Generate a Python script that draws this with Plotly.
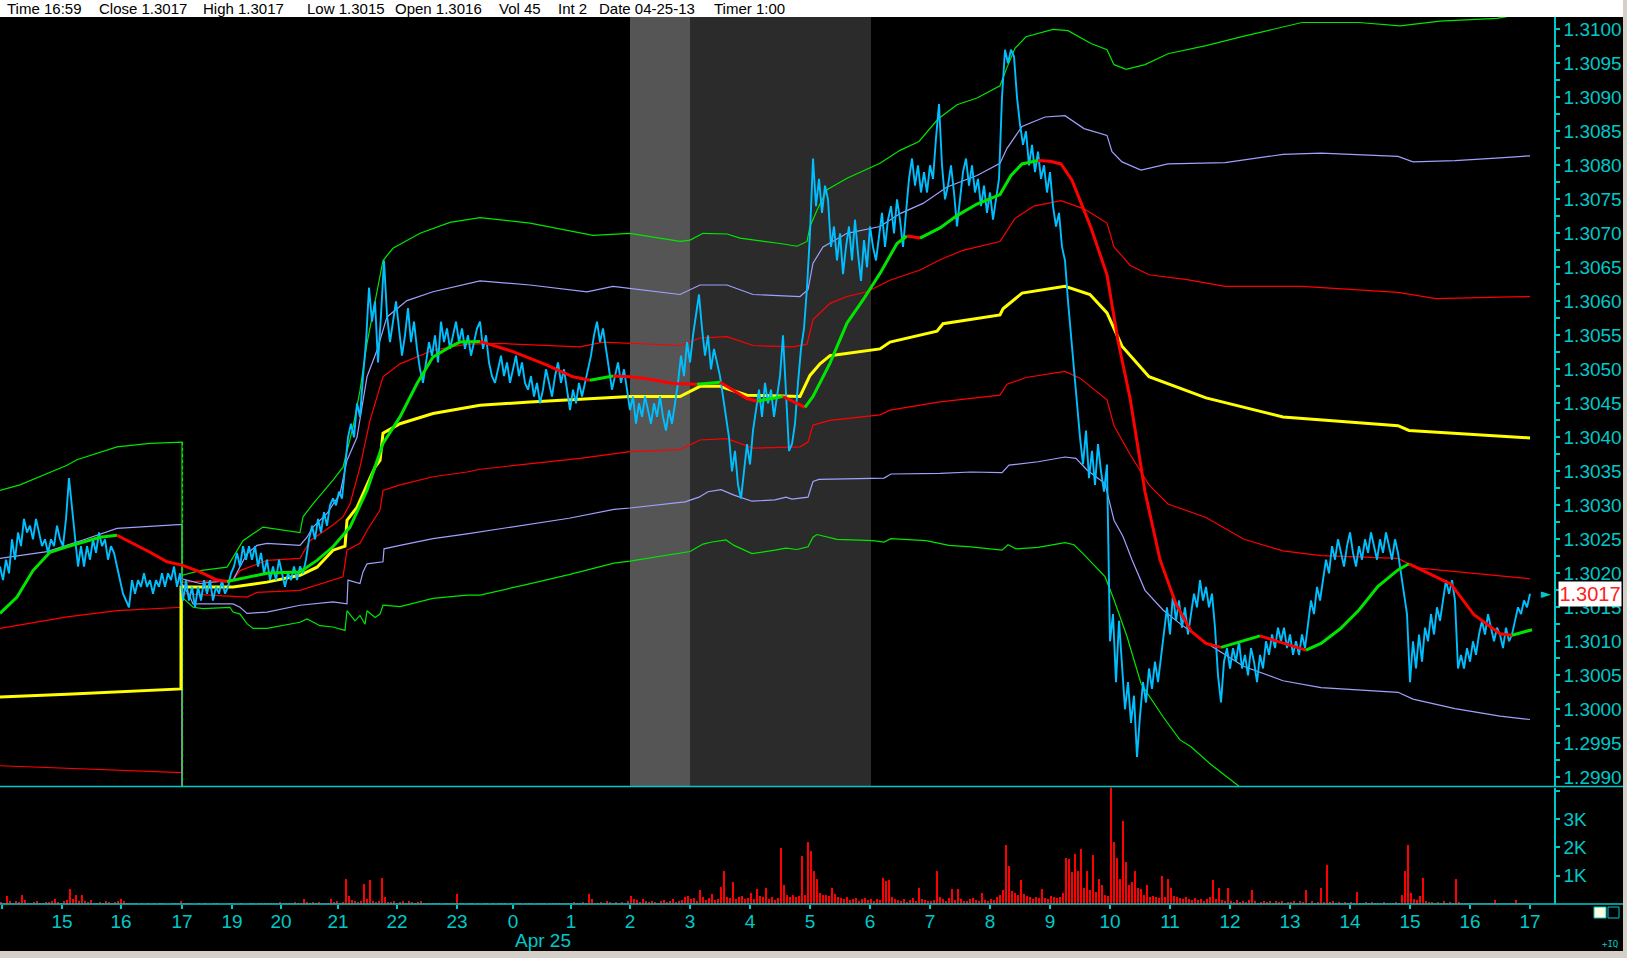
import plotly.graph_objects as go

# ---- header line of the quote window ----
header_fields = ["Time 16:59", "Close 1.3017", "High 1.3017", "Low 1.3015", "Open 1.3016",
                 "Vol 45", "Int 2", "Date 04-25-13", "Timer 1:00"]
header_px = [5, 97, 201, 305, 393, 497, 556, 597, 712]

# ---- time axis (minute bars, session break at 17:00) ----
hour_ticks = [2, 62, 121, 182, 232, 281, 338, 397, 457, 513, 571, 630, 690, 750, 810,
              870, 930, 990, 1050, 1110, 1170, 1230, 1290, 1350, 1410, 1470, 1530]
hour_labels = ["", "15", "16", "17", "19", "20", "21", "22", "23", "0", "1", "2", "3", "4", "5",
               "6", "7", "8", "9", "10", "11", "12", "13", "14", "15", "16", "17"]
date_label = "Apr 25"
date_tick = 513
session_break = 182

shade_start = [630, 690]
shade_end = [690, 871]
shade_colors = ["#555555", "#2b2b2b"]

# ---- price, one value every 3 bars ----
price_step = 3
price = [
    1.3021, 1.3019, 1.3022, 1.3020, 1.3025, 1.3022, 1.3026, 1.3024, 1.3028, 1.3026,
    1.3027, 1.3025, 1.3028, 1.3026, 1.3024, 1.3025, 1.3023, 1.3025, 1.3024, 1.3027,
    1.3025, 1.3024, 1.3028, 1.3034, 1.3030, 1.3026, 1.3021, 1.3024, 1.3021, 1.3024,
    1.3022, 1.3025, 1.3023, 1.3026, 1.3024, 1.3025, 1.3022, 1.3024, 1.3023, 1.3021,
    1.3019, 1.3017, 1.3016, 1.3015, 1.3019, 1.3017, 1.3019, 1.3018, 1.3020, 1.3018,
    1.3019, 1.3017, 1.3019, 1.3018, 1.3020, 1.3018, 1.3020, 1.3019, 1.3021, 1.3018,
    1.3020, 1.3016, 1.3019, 1.3016, 1.3018, 1.3015, 1.3018, 1.3016, 1.3019, 1.3017,
    1.3019, 1.3016, 1.3018, 1.3017, 1.3019, 1.3017, 1.3018, 1.3020, 1.3021, 1.3023,
    1.3021, 1.3024, 1.3022, 1.3024, 1.3022, 1.3024, 1.3021, 1.3023, 1.3020, 1.3022,
    1.3019, 1.3021, 1.3019, 1.3022, 1.3020, 1.3018, 1.3020, 1.3019, 1.3021, 1.3019,
    1.3021, 1.3020, 1.3022, 1.3025, 1.3027, 1.3025, 1.3028, 1.3026, 1.3029, 1.3027,
    1.3030, 1.3031, 1.3030, 1.3032, 1.3031, 1.3035, 1.3040, 1.3042, 1.3040, 1.3045,
    1.3043, 1.3049, 1.3054, 1.3062, 1.3057, 1.3060, 1.3051, 1.3058, 1.3066, 1.3058,
    1.3054, 1.3057, 1.3060, 1.3056, 1.3052, 1.3055, 1.3059, 1.3054, 1.3057, 1.3053,
    1.3050, 1.3048, 1.3051, 1.3054, 1.3052, 1.3055, 1.3051, 1.3057, 1.3054, 1.3056,
    1.3053, 1.3055, 1.3057, 1.3054, 1.3056, 1.3053, 1.3055, 1.3052, 1.3054, 1.3056,
    1.3057, 1.3053, 1.3055, 1.3051, 1.3049, 1.3048, 1.3050, 1.3052, 1.3049, 1.3051,
    1.3048, 1.3050, 1.3052, 1.3049, 1.3051, 1.3048, 1.3047, 1.3049, 1.3046, 1.3048,
    1.3045, 1.3047, 1.3050, 1.3048, 1.3046, 1.3049, 1.3051, 1.3048, 1.3050, 1.3047,
    1.3044, 1.3047, 1.3045, 1.3048, 1.3046, 1.3048, 1.3050, 1.3052, 1.3055, 1.3057,
    1.3054, 1.3056, 1.3053, 1.3050, 1.3047, 1.3049, 1.3051, 1.3048, 1.3050, 1.3047,
    1.3044, 1.3046, 1.3042, 1.3045, 1.3043, 1.3046, 1.3044, 1.3042, 1.3045, 1.3043,
    1.3046, 1.3043, 1.3041, 1.3044, 1.3042, 1.3045, 1.3048, 1.3052, 1.3049, 1.3054,
    1.3051, 1.3055, 1.3058, 1.3061, 1.3056, 1.3052, 1.3055, 1.3050, 1.3053, 1.3051,
    1.3049, 1.3046, 1.3043, 1.3040, 1.3035, 1.3038, 1.3033, 1.3031, 1.3035, 1.3039,
    1.3036, 1.3041, 1.3044, 1.3047, 1.3043, 1.3048, 1.3045, 1.3047, 1.3043, 1.3046,
    1.3049, 1.3055, 1.3046, 1.3038, 1.3039, 1.3042, 1.3048, 1.3053, 1.3056, 1.3062,
    1.3070, 1.3081, 1.3074, 1.3078, 1.3073, 1.3077, 1.3075, 1.3068, 1.3071, 1.3066,
    1.3070, 1.3064, 1.3068, 1.3071, 1.3066, 1.3072, 1.3067, 1.3063, 1.3069, 1.3065,
    1.3071, 1.3068, 1.3066, 1.3070, 1.3073, 1.3068, 1.3072, 1.3074, 1.3070, 1.3075,
    1.3072, 1.3068, 1.3073, 1.3078, 1.3081, 1.3077, 1.3080, 1.3076, 1.3079, 1.3076,
    1.3080, 1.3078, 1.3084, 1.3089, 1.3080, 1.3075, 1.3077, 1.3080, 1.3076, 1.3071,
    1.3075, 1.3079, 1.3081, 1.3077, 1.3080, 1.3076, 1.3078, 1.3074, 1.3077, 1.3073,
    1.3076, 1.3072, 1.3075, 1.3078, 1.3090, 1.3097, 1.3095, 1.3097, 1.3096, 1.3090,
    1.3086, 1.3083, 1.3085, 1.3080, 1.3083, 1.3079, 1.3082, 1.3078, 1.3080, 1.3076,
    1.3079, 1.3074, 1.3071, 1.3073, 1.3068, 1.3066, 1.3060, 1.3055, 1.3050, 1.3044,
    1.3040, 1.3036, 1.3041, 1.3034, 1.3038, 1.3033, 1.3039, 1.3035, 1.3032, 1.3036,
    1.3010, 1.3014, 1.3004, 1.3013, 1.3006, 1.3000, 1.3004, 1.2998, 1.3002, 1.2993,
    1.2999, 1.3004, 1.3001, 1.3006, 1.3003, 1.3007, 1.3004, 1.3008, 1.3012, 1.3015,
    1.3011, 1.3017, 1.3013, 1.3016, 1.3012, 1.3015, 1.3011, 1.3014, 1.3017, 1.3015,
    1.3019, 1.3016, 1.3018, 1.3015, 1.3017, 1.3012, 1.3005, 1.3001, 1.3007, 1.3009,
    1.3006, 1.3009, 1.3007, 1.3010, 1.3006, 1.3008, 1.3005, 1.3009, 1.3007, 1.3004,
    1.3008, 1.3006, 1.3010, 1.3008, 1.3011, 1.3009, 1.3012, 1.3010, 1.3012, 1.3009,
    1.3011, 1.3008, 1.3010, 1.3008, 1.3011, 1.3009, 1.3013, 1.3016, 1.3014, 1.3018,
    1.3016, 1.3019, 1.3022, 1.3020, 1.3024, 1.3022, 1.3025, 1.3023, 1.3021, 1.3024,
    1.3026, 1.3023, 1.3021, 1.3024, 1.3022, 1.3025, 1.3023, 1.3026, 1.3024, 1.3022,
    1.3025, 1.3023, 1.3026, 1.3024, 1.3022, 1.3025, 1.3023, 1.3020, 1.3017, 1.3014,
    1.3004, 1.3010, 1.3006, 1.3011, 1.3007, 1.3012, 1.3010, 1.3014, 1.3011, 1.3015,
    1.3013, 1.3016, 1.3019, 1.3017, 1.3019, 1.3016, 1.3006, 1.3008, 1.3006, 1.3009,
    1.3007, 1.3010, 1.3008, 1.3011, 1.3013, 1.3011, 1.3014, 1.3012, 1.3010, 1.3012,
    1.3011, 1.3009, 1.3012, 1.3010, 1.3011, 1.3013, 1.3015, 1.3014, 1.3016, 1.3015,
    1.3017,
]
last_close = 1.3017

# ---- moving average (green while rising, red while falling) ----
ma = [(0, 1.30141), (17, 1.30165), (33, 1.30204), (50, 1.30231), (67, 1.30239), (83, 1.30246),
      (100, 1.30253), (117, 1.30256), (133, 1.30244), (150, 1.30231), (167, 1.30217), (182, 1.30212),
      (200, 1.30202), (217, 1.30190), (227, 1.30188), (250, 1.30195), (267, 1.30200), (283, 1.30201),
      (300, 1.30202), (317, 1.30219), (333, 1.30239), (350, 1.30268), (367, 1.30322), (383, 1.30391),
      (400, 1.30430), (417, 1.30479), (433, 1.30518), (450, 1.30533), (460, 1.30540), (480, 1.30541),
      (500, 1.30532), (513, 1.30526), (530, 1.30516), (547, 1.30506), (573, 1.30489), (590, 1.30484),
      (613, 1.30490), (630, 1.30489), (647, 1.30486), (673, 1.30479), (697, 1.30478), (720, 1.30481),
      (733, 1.30470), (747, 1.30457), (757, 1.30453), (770, 1.30457), (783, 1.30460), (793, 1.30453),
      (805, 1.30444), (813, 1.30460), (830, 1.30509), (847, 1.30568), (863, 1.30602), (880, 1.30641),
      (897, 1.30685), (907, 1.30696), (920, 1.30693), (940, 1.30708), (957, 1.30726), (977, 1.30743),
      (1000, 1.30757), (1011, 1.30785), (1022, 1.30802), (1038, 1.30807), (1050, 1.30806),
      (1061, 1.30802), (1072, 1.30778), (1091, 1.30708), (1107, 1.30639), (1118, 1.30542),
      (1130, 1.30458), (1145, 1.30320), (1160, 1.30220), (1176, 1.30155), (1191, 1.30115),
      (1206, 1.30097), (1221, 1.30091), (1244, 1.30101), (1260, 1.30108), (1283, 1.30098),
      (1306, 1.30087), (1321, 1.30097), (1340, 1.30118), (1359, 1.30146), (1378, 1.30181),
      (1398, 1.30205), (1409, 1.30214), (1436, 1.30195), (1451, 1.30184), (1474, 1.30139),
      (1500, 1.30111), (1512, 1.30109), (1532, 1.30117)]

# ---- session VWAP and deviation bands (reset at 17:00) ----
vwap = [(0, 1.30018), (67, 1.30022), (181, 1.30030),
        (181, 1.30180), (233, 1.30180), (267, 1.30187), (300, 1.30197), (317, 1.30209), (333, 1.30234),
        (345, 1.30240), (347, 1.30278), (357, 1.30297), (367, 1.30330), (375, 1.30356), (380, 1.30366),
        (383, 1.30406), (400, 1.30420), (433, 1.30435), (480, 1.30447), (530, 1.30452), (630, 1.30460),
        (680, 1.30460), (700, 1.30475), (720, 1.30475), (747, 1.30462), (800, 1.30460), (810, 1.30491),
        (820, 1.30508), (830, 1.30520), (880, 1.30530), (890, 1.30540), (937, 1.30556), (943, 1.30567),
        (1000, 1.30580), (1003, 1.30589), (1022, 1.30612), (1065, 1.30622), (1090, 1.30610),
        (1107, 1.30583), (1122, 1.30534), (1149, 1.30489), (1206, 1.30458), (1283, 1.30430),
        (1398, 1.30417), (1409, 1.30410), (1500, 1.30401), (1530, 1.30399)]

upper1 = [(0, 1.30119), (67, 1.30136), (117, 1.30145), (182, 1.30150),
          (182, 1.30187), (233, 1.30190), (240, 1.30204), (267, 1.30219), (300, 1.30222), (310, 1.30248),
          (333, 1.30271), (343, 1.30283), (350, 1.30302), (360, 1.30356), (370, 1.30425), (383, 1.30489),
          (400, 1.30508), (433, 1.30528), (467, 1.30537), (500, 1.30538), (580, 1.30533), (603, 1.30540),
          (680, 1.30535), (700, 1.30546), (727, 1.30548), (753, 1.30535), (793, 1.30533), (807, 1.30537),
          (813, 1.30573), (830, 1.30597), (847, 1.30607), (867, 1.30614), (890, 1.30631), (920, 1.30646),
          (940, 1.30661), (963, 1.30675), (1000, 1.30688), (1015, 1.30722), (1034, 1.30740),
          (1061, 1.30748), (1084, 1.30736), (1107, 1.30715), (1114, 1.30680), (1130, 1.30653),
          (1149, 1.30639), (1187, 1.30632), (1225, 1.30622), (1302, 1.30622), (1398, 1.30613),
          (1436, 1.30604), (1500, 1.30606), (1530, 1.30607)]

upper2 = [(0, 1.30222), (47, 1.30232), (83, 1.30249), (117, 1.30266), (182, 1.30272),
          (182, 1.30192), (200, 1.30185), (233, 1.30190), (247, 1.30229), (257, 1.30241), (267, 1.30244),
          (300, 1.30241), (307, 1.30253), (313, 1.30268), (327, 1.30288), (340, 1.30317), (347, 1.30366),
          (357, 1.30400), (367, 1.30489), (377, 1.30528), (387, 1.30577), (407, 1.30601), (433, 1.30614),
          (467, 1.30626), (480, 1.30630), (530, 1.30624), (587, 1.30614), (613, 1.30622), (680, 1.30610),
          (700, 1.30624), (727, 1.30624), (753, 1.30610), (800, 1.30607), (808, 1.30617), (810, 1.30631),
          (813, 1.30656), (823, 1.30680), (847, 1.30700), (880, 1.30710), (900, 1.30729), (923, 1.30744),
          (947, 1.30768), (977, 1.30785), (1000, 1.30803), (1007, 1.30825), (1022, 1.30857),
          (1045, 1.30871), (1065, 1.30873), (1084, 1.30854), (1107, 1.30844), (1112, 1.30820),
          (1122, 1.30805), (1141, 1.30793), (1168, 1.30802), (1225, 1.30804), (1283, 1.30816),
          (1321, 1.30818), (1398, 1.30813), (1413, 1.30805), (1455, 1.30807), (1500, 1.30811),
          (1530, 1.30814)]

upper3 = [(0, 1.30322), (20, 1.30330), (67, 1.30359), (77, 1.30367), (117, 1.30386), (150, 1.30391),
          (182, 1.30393),
          (182, 1.30197), (200, 1.30204), (227, 1.30209), (230, 1.30216), (243, 1.30248), (263, 1.30268),
          (300, 1.30260), (303, 1.30283), (313, 1.30302), (333, 1.30337), (343, 1.30356), (353, 1.30415),
          (360, 1.30469), (367, 1.30538), (377, 1.30611), (383, 1.30660), (393, 1.30678), (420, 1.30700),
          (450, 1.30716), (480, 1.30723), (530, 1.30715), (593, 1.30697), (630, 1.30700), (680, 1.30688),
          (690, 1.30690), (703, 1.30700), (727, 1.30699), (740, 1.30693), (780, 1.30685), (797, 1.30681),
          (807, 1.30688), (810, 1.30710), (817, 1.30734), (827, 1.30764), (847, 1.30781), (880, 1.30803),
          (900, 1.30822), (919, 1.30835), (938, 1.30868), (957, 1.30889), (977, 1.30899), (1000, 1.30917),
          (1007, 1.30944), (1015, 1.30972), (1026, 1.30989), (1053, 1.31000), (1068, 1.30998),
          (1091, 1.30979), (1107, 1.30970), (1114, 1.30948), (1126, 1.30941), (1145, 1.30948),
          (1168, 1.30964), (1206, 1.30976), (1244, 1.30990), (1283, 1.31003), (1302, 1.31010),
          (1359, 1.31010), (1400, 1.31005), (1440, 1.31012), (1497, 1.31016), (1530, 1.31025)]

lower1 = [(0, 1.29917), (182, 1.29907),
          (182, 1.30170), (247, 1.30165), (257, 1.30172), (300, 1.30175), (343, 1.30195), (347, 1.30234),
          (360, 1.30244), (367, 1.30263), (380, 1.30293), (383, 1.30322), (400, 1.30330), (433, 1.30342),
          (467, 1.30349), (480, 1.30353), (580, 1.30369), (630, 1.30379), (680, 1.30382), (700, 1.30396),
          (727, 1.30398), (753, 1.30384), (800, 1.30386), (808, 1.30393), (813, 1.30418), (830, 1.30425),
          (880, 1.30433), (890, 1.30440), (940, 1.30452), (1000, 1.30462), (1007, 1.30478),
          (1026, 1.30488), (1065, 1.30497), (1080, 1.30487), (1107, 1.30455), (1114, 1.30417),
          (1130, 1.30375), (1149, 1.30330), (1168, 1.30302), (1206, 1.30282), (1244, 1.30250),
          (1283, 1.30233), (1321, 1.30226), (1398, 1.30222), (1417, 1.30208), (1500, 1.30196),
          (1530, 1.30192)]

lower2 = [(0, 1.29790), (182, 1.29770),
          (182, 1.30185), (190, 1.30165), (193, 1.30155), (233, 1.30155), (240, 1.30150), (247, 1.30141),
          (267, 1.30143), (300, 1.30153), (333, 1.30158), (347, 1.30155), (348, 1.30190), (360, 1.30185),
          (363, 1.30202), (367, 1.30214), (383, 1.30217), (384, 1.30236), (400, 1.30241), (433, 1.30251),
          (467, 1.30258), (480, 1.30261), (525, 1.30271), (569, 1.30281), (614, 1.30294), (630, 1.30296),
          (685, 1.30305), (699, 1.30312), (708, 1.30320), (721, 1.30323), (734, 1.30315), (752, 1.30306),
          (775, 1.30308), (786, 1.30312), (792, 1.30309), (808, 1.30312), (813, 1.30335), (819, 1.30338),
          (884, 1.30340), (891, 1.30346), (940, 1.30347), (971, 1.30349), (1002, 1.30348),
          (1009, 1.30359), (1038, 1.30364), (1065, 1.30371), (1076, 1.30369), (1087, 1.30352),
          (1105, 1.30332), (1114, 1.30278), (1123, 1.30254), (1132, 1.30220), (1145, 1.30175),
          (1163, 1.30146), (1180, 1.30126), (1206, 1.30098), (1244, 1.30063), (1283, 1.30042),
          (1321, 1.30032), (1398, 1.30025), (1413, 1.30015), (1455, 1.30001), (1500, 1.29990),
          (1530, 1.29985)]

lower3 = [(0, 1.29660), (182, 1.29630),
          (182, 1.30165), (193, 1.30150), (203, 1.30148), (230, 1.30150), (233, 1.30143), (240, 1.30140),
          (247, 1.30126), (253, 1.30119), (267, 1.30119), (300, 1.30128), (307, 1.30133), (320, 1.30123),
          (333, 1.30121), (345, 1.30116), (347, 1.30145), (355, 1.30130), (360, 1.30138), (365, 1.30125),
          (367, 1.30145), (375, 1.30135), (380, 1.30140), (383, 1.30153), (400, 1.30151), (417, 1.30157),
          (433, 1.30163), (467, 1.30168), (480, 1.30168), (525, 1.30183), (569, 1.30198), (614, 1.30215),
          (630, 1.30218), (690, 1.30232), (703, 1.30243), (712, 1.30246), (726, 1.30249), (734, 1.30241),
          (752, 1.30229), (775, 1.30234), (786, 1.30237), (797, 1.30235), (808, 1.30239), (813, 1.30253),
          (817, 1.30257), (837, 1.30250), (873, 1.30248), (884, 1.30246), (891, 1.30251), (926, 1.30248),
          (949, 1.30241), (971, 1.30239), (1002, 1.30234), (1008, 1.30242), (1016, 1.30236),
          (1038, 1.30238), (1065, 1.30245), (1074, 1.30242), (1083, 1.30229), (1105, 1.30195),
          (1114, 1.30161), (1127, 1.30107), (1141, 1.30038), (1163, 1.29989), (1180, 1.29955),
          (1191, 1.29945), (1210, 1.29920), (1245, 1.29880), (1290, 1.29830)]

# ---- volume, one bar every 3 minutes starting at bar 1 ----
vol_step = 3
volume = [
    90, 60, 300, 110, 70, 120, 80, 330, 150, 60,
    50, 90, 120, 70, 60, 100, 80, 130, 200, 90,
    70, 120, 150, 560, 180, 330, 120, 330, 110, 80,
    150, 60, 50, 90, 70, 130, 80, 60, 90, 110,
    200, 120, 70, 40, 20, 50, 10, 30, 0, 20,
    10, 30, 0, 20, 40, 10, 0, 30, 20, 60,
    110, 30, 50, 20, 0, 10, 30, 0, 20, 10,
    0, 20, 30, 0, 10, 0, 20, 40, 10, 0,
    30, 10, 0, 20, 30, 10, 50, 20, 40, 30,
    20, 60, 40, 90, 50, 70, 40, 60, 80, 50,
    70, 200, 80, 60, 100, 50, 90, 70, 40, 60,
    180, 90, 120, 60, 80, 900, 300, 150, 110, 80,
    120, 720, 200, 860, 130, 90, 110, 930, 250, 100,
    80, 120, 60, 90, 110, 70, 140, 80, 60, 100,
    120, 50, 30, 60, 20, 40, 30, 10, 50, 20,
    40, 20, 370, 60, 30, 10, 40, 20, 0, 30,
    10, 40, 20, 0, 30, 10, 50, 20, 40, 10,
    30, 0, 20, 40, 10, 30, 20, 50, 10, 40,
    20, 60, 10, 30, 50, 20, 40, 60, 30, 70,
    50, 80, 60, 40, 90, 60, 370, 200, 70, 50,
    90, 60, 110, 80, 70, 100, 60, 90, 50, 130,
    300, 200, 150, 90, 180, 120, 80, 140, 100, 70,
    110, 150, 90, 130, 200, 80, 120, 160, 250, 300,
    180, 220, 140, 520, 260, 170, 230, 380, 150, 200,
    630, 1170, 280, 220, 790, 190, 250, 300, 180, 240,
    420, 200, 550, 310, 260, 580, 210, 280, 150, 220,
    2000, 700, 320, 280, 350, 260, 300, 1700, 330, 2200,
    1900, 1200, 900, 400, 320, 350, 300, 580, 380, 250,
    220, 180, 260, 150, 200, 240, 130, 190, 220, 160,
    180, 140, 210, 150, 950, 820, 850, 250, 200, 160,
    120, 180, 100, 150, 230, 120, 600, 200, 160, 110,
    140, 170, 1200, 250, 180, 130, 220, 550, 160, 550,
    200, 140, 120, 180, 230, 150, 110, 400, 170, 140,
    210, 160, 250, 320, 500, 2100, 1350, 480, 420, 350,
    850, 380, 300, 260, 200, 280, 240, 550, 220, 180,
    300, 250, 220, 280, 420, 1650, 1600, 1150, 1800, 1200,
    1950, 600, 1200, 500, 1750, 450, 900, 700, 350, 300,
    4300, 2200, 1650, 900, 2950, 1500, 700, 800, 1200, 600,
    550, 320, 700, 250, 300, 280, 220, 1000, 260, 900,
    600, 300, 250, 220, 180, 260, 200, 150, 230, 170,
    200, 140, 180, 250, 850, 200, 600, 150, 120, 600,
    130, 100, 160, 90, 120, 80, 150, 500, 110, 70,
    100, 140, 80, 120, 60, 110, 90, 130, 70, 100,
    80, 120, 60, 140, 90, 500, 70, 110, 60, 90,
    600, 100, 1400, 80, 120, 60, 100, 70, 90, 50,
    80, 60, 450, 70, 40, 90, 60, 80, 50, 70,
    60, 90, 40, 70, 50, 80, 60, 350, 1200, 2100,
    400, 200, 150, 300, 950, 120, 80, 100, 60, 90,
    70, 110, 50, 80, 60, 900, 100, 70, 50, 40,
    30, 50, 20, 40, 30, 20, 40, 30, 150, 40,
    30, 40, 20, 30, 50, 150, 40, 30, 20, 40,
]

# ---- colours ----
BG = "black"
AXIS = "#00c8c8"
PRICE_COL = "#00bfff"
GREEN = "#00e600"
LAVENDER = "#a0a0ff"
RED = "#ff0000"
YELLOW = "#ffff00"

# window geometry in pixels
W, H = 1627, 958
PLOT_L, PLOT_R, PLOT_T, PLOT_B = 0, 1554, 17, 904
SEP_Y = 786.5
PW, PH = PLOT_R - PLOT_L, PLOT_B - PLOT_T
Y_TOP = 1.3100 + (29.3 - PLOT_T) / 68000
Y_BOT = 1.3100 - (SEP_Y - 29.3) / 68000


def px(x):
    return (x - PLOT_L) / PW


def py(y):
    return (PLOT_B - y) / PH


vol_domain = [0, py(SEP_Y + 1)]
price_domain = [py(SEP_Y), 1]

fig = go.Figure()


def add_band(pairs, color, width, name):
    xs = [p[0] for p in pairs]
    ys = [p[1] for p in pairs]
    fig.add_trace(go.Scatter(x=xs, y=ys, mode="lines", name=name,
                             line=dict(color=color, width=width), hoverinfo="skip"))


add_band(lower1, RED, 1.2, "-1 sd")
add_band(lower3, GREEN, 1.2, "-3 sd")
add_band(upper1, RED, 1.2, "+1 sd")
add_band(upper2, LAVENDER, 1.2, "+2 sd")
add_band(upper3, GREEN, 1.2, "+3 sd")
add_band(lower2, LAVENDER, 1.2, "-2 sd")

# dotted drop of the old +3 band at the session break
old_top = [p[1] for p in upper3 if p[0] <= session_break][-2]
fig.add_trace(go.Scatter(x=[session_break + 0.5, session_break + 0.5], y=[old_top, Y_BOT],
                         mode="lines", line=dict(color=GREEN, width=1.2, dash="3px,3px"),
                         hoverinfo="skip"))

add_band(vwap, YELLOW, 3, "VWAP")

price_x = [i * price_step for i in range(len(price))]
fig.add_trace(go.Scatter(x=price_x, y=price, mode="lines", name="EUR/USD",
                         line=dict(color=PRICE_COL, width=1.9)))

# moving average, split into rising / falling runs
ma_x = [p[0] for p in ma]
ma_y = [p[1] for p in ma]
runs = []
cur = None
for i in range(len(ma_x) - 1):
    col = GREEN if ma_y[i + 1] >= ma_y[i] else RED
    if col != cur:
        runs.append((col, [ma_x[i]], [ma_y[i]]))
        cur = col
    runs[-1][1].append(ma_x[i + 1])
    runs[-1][2].append(ma_y[i + 1])
for col, xs, ys in runs:
    fig.add_trace(go.Scatter(x=xs, y=ys, mode="lines", line=dict(color=col, width=3),
                             hoverinfo="skip"))

vol_x = [1 + i * vol_step for i in range(len(volume))]
fig.add_trace(go.Bar(x=vol_x, y=volume, xaxis="x2", yaxis="y2", width=2.4,
                     marker=dict(color=RED, line=dict(width=0)), name="Volume"))

tick_font = dict(family="Liberation Sans, Arial, sans-serif", size=19, color=AXIS)

shapes = []
# session shading
for s0, s1, c in zip(shade_start, shade_end, shade_colors):
    shapes.append(dict(type="rect", xref="x", yref="y domain", x0=s0, x1=s1, y0=0, y1=1,
                       fillcolor=c, line=dict(width=0), layer="below"))
# panel separator and bottom axis line (full window width)
for yy in [py(SEP_Y), 0]:
    shapes.append(dict(type="line", xref="paper", yref="paper", x0=0, x1=px(1623), y0=yy, y1=yy,
                       line=dict(color=AXIS, width=1.5)))
# title strip
shapes.append(dict(type="rect", xref="paper", yref="paper", x0=0, x1=px(1623), y0=1, y1=py(0),
                   fillcolor="white", line=dict(width=0), layer="below"))
# window frame
shapes.append(dict(type="rect", xref="paper", yref="paper", x0=px(1623), x1=px(W), y0=py(H), y1=py(0),
                   fillcolor="#d4d0c8", line=dict(width=0), layer="below"))
shapes.append(dict(type="rect", xref="paper", yref="paper", x0=0, x1=px(W), y0=py(H), y1=py(951),
                   fillcolor="#d4d0c8", line=dict(width=0), layer="below"))
# little panel buttons
shapes.append(dict(type="rect", xref="paper", yref="paper", x0=px(1594), x1=px(1606), y0=py(918), y1=py(907),
                   fillcolor="#ffffe0", line=dict(color=AXIS, width=1)))
shapes.append(dict(type="rect", xref="paper", yref="paper", x0=px(1608), x1=px(1619), y0=py(918), y1=py(907),
                   fillcolor=BG, line=dict(color=AXIS, width=1)))

annotations = []
for txt, hx in zip(header_fields, header_px):
    annotations.append(dict(text=txt, xref="paper", yref="paper", x=px(hx), y=py(9),
                            xanchor="left", yanchor="middle", showarrow=False,
                            font=dict(family="Liberation Sans Narrow, Arial Narrow, sans-serif",
                                      size=15, color="black")))
annotations.append(dict(text=date_label, xref="x2", yref="paper", x=date_tick, y=py(940),
                        xanchor="left", yanchor="middle", showarrow=False, font=tick_font))
annotations.append(dict(text="%.4f" % last_close, xref="paper", yref="y", x=px(1558), y=last_close,
                        xanchor="left", yanchor="middle", showarrow=False, bgcolor="white",
                        width=60, height=22, borderpad=1,
                        font=dict(family="Liberation Sans, Arial, sans-serif", size=20, color="#ff2020")))
annotations.append(dict(text="\u25ba", xref="paper", yref="y", x=px(1553), y=last_close,
                        xanchor="right", yanchor="middle", showarrow=False,
                        font=dict(family="DejaVu Sans", size=13, color=AXIS)))
annotations.append(dict(text="+IQ", xref="paper", yref="paper", x=px(1610), y=py(944),
                        xanchor="center", yanchor="middle", showarrow=False,
                        font=dict(family="DejaVu Sans Mono, monospace", size=9, color=AXIS)))

fig.update_layout(
    width=W, height=H, autosize=False,
    margin=dict(l=PLOT_L, r=W - PLOT_R, t=PLOT_T, b=H - PLOT_B, pad=0),
    paper_bgcolor=BG, plot_bgcolor=BG,
    showlegend=False, bargap=0,
    shapes=shapes, annotations=annotations,
    xaxis=dict(domain=[0, 1], anchor="y", range=[0, PW], matches="x2",
               showticklabels=False, showgrid=False, zeroline=False, showline=False, ticks=""),
    xaxis2=dict(domain=[0, 1], anchor="y2", range=[0, PW],
                tickmode="array", tickvals=hour_ticks, ticktext=hour_labels,
                ticks="outside", ticklen=4, tickcolor=AXIS, tickwidth=1.5, ticklabelstandoff=-4,
                tickfont=tick_font, showgrid=False, zeroline=False, showline=False),
    yaxis=dict(domain=price_domain, anchor="x", side="right", range=[Y_BOT, Y_TOP],
               tick0=1.2990, dtick=0.0005, tickformat=".4f",
               ticks="outside", ticklen=4, tickcolor=AXIS, tickwidth=1.5,
               minor=dict(dtick=0.00025, ticks="outside", ticklen=4, tickcolor=AXIS),
               tickfont=tick_font, showline=True, linecolor=AXIS, linewidth=1.5,
               showgrid=False, zeroline=False),
    yaxis2=dict(domain=vol_domain, anchor="x2", side="right", range=[0, 4120],
                tickmode="array", tickvals=[1000, 2000, 3000, 4000], ticktext=["1K", "2K", "3K", ""],
                ticks="outside", ticklen=4, tickcolor=AXIS, tickwidth=1.5,
                tickfont=tick_font, showline=True, linecolor=AXIS, linewidth=1.5,
                showgrid=False, zeroline=False),
)

# the page body has a default 8px margin; drop it so the chart fills the window
fig.write_html("out.html", config={"displayModeBar": False},
               post_script="document.body.style.margin='0';"
                           "document.body.style.overflow='hidden';")
